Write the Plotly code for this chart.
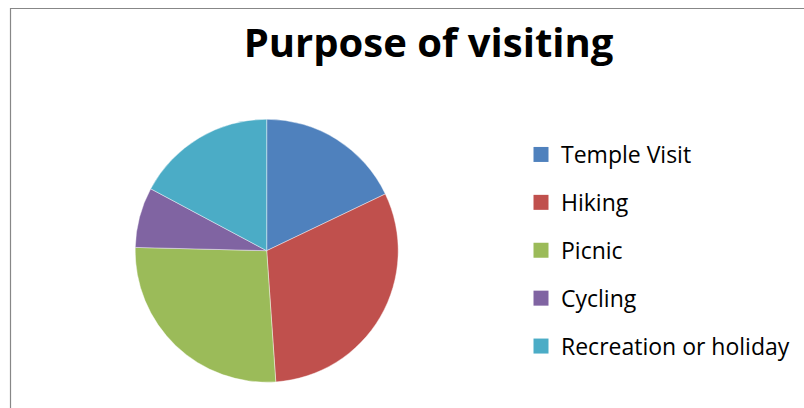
import plotly.graph_objects as go

categories = ["Temple Visit", "Hiking", "Picnic", "Cycling", "Recreation or holiday"]
values = [17.9, 31.0, 26.5, 7.4, 17.2]
colors = ["#4F81BD", "#C0504D", "#9BBB59", "#8064A2", "#4BACC6"]
title_text = "Purpose of visiting"

W, H = 804, 408
cx, cy, r = 266.7, 250.7, 131.5

fig = go.Figure()
fig.add_trace(go.Pie(
    labels=categories, values=values, sort=False, direction="clockwise", rotation=0,
    marker=dict(colors=colors, line=dict(color="rgba(255,255,255,0.6)", width=0.7)),
    textinfo="none", hoverinfo="label+percent", showlegend=False,
    domain=dict(x=[(cx - r) / W, (cx + r) / W], y=[(H - cy - r) / H, (H - cy + r) / H]),
))
for i, (c, col) in enumerate(zip(categories, colors)):
    fig.add_trace(go.Scatter(
        x=[None], y=[None], mode="markers", name=c, legendgroup=f"g{i}",
        marker=dict(symbol="square", size=15, color=col), showlegend=True,
    ))

fig.update_layout(
    width=W, height=H, margin=dict(l=0, r=0, t=0, b=0),
    paper_bgcolor="white", plot_bgcolor="white",
    xaxis=dict(visible=False), yaxis=dict(visible=False),
    font=dict(family="Open Sans, sans-serif", color="#000000"),
    title=dict(text="<b>" + title_text + "</b>", x=428.5 / W, xanchor="center",
               y=1 - 42.5 / H, yanchor="middle",
               font=dict(size=40, family="Open Sans, sans-serif", color="#000000")),
    legend=dict(x=521 / W, xanchor="left", y=1 - 133 / H, yanchor="top",
                font=dict(size=23), traceorder="grouped", tracegroupgap=15,
                bgcolor="rgba(0,0,0,0)"),
    shapes=[dict(type="rect", xref="paper", yref="paper",
                 x0=10.5 / W, x1=1.3, y0=-0.3, y1=1 - 8.5 / H,
                 line=dict(color="#878787", width=1.2), fillcolor="rgba(0,0,0,0)", layer="below")],
)
fig.write_html("out.html", config={"displayModeBar": False},
               post_script="document.body.style.margin='0';")
